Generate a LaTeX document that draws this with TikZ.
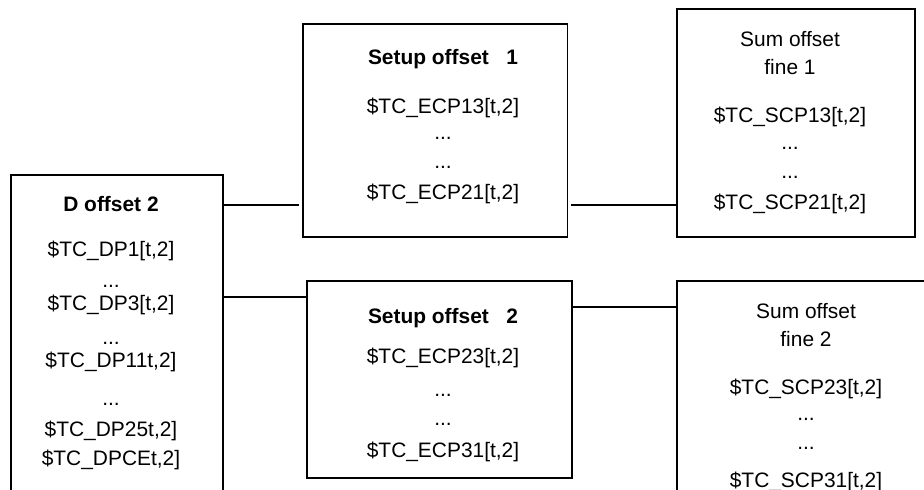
\documentclass[tikz,border=0pt]{standalone}
\usepackage{fontspec}
\setmainfont{Liberation Sans}
\begin{document}
\begin{tikzpicture}[x=1bp,y=-1bp,
  box/.style={draw, line width=1.8bp, inner sep=0pt, rectangle},
  link/.style={line width=1.8bp},
  lbl/.style={anchor=base, inner sep=0pt, font=\fontsize{21}{25}\selectfont},
  head/.style={lbl, font=\fontsize{21}{25}\selectfont\bfseries}]
\useasboundingbox (0,0) rectangle (924,490);
\clip (0,0) rectangle (924,490);

% offset blocks
\node[box, minimum width=212bp,   minimum height=355bp]   (D)  at (117,352.5)    {};
\node[box, minimum width=264.8bp, minimum height=212.7bp] (S1) at (435.1,130.35) {};
\node[box, minimum width=237.7bp, minimum height=227.7bp] (U1) at (796.15,122.85) {};
\node[box, minimum width=265bp,   minimum height=197bp]   (S2) at (439.2,379.2)  {};
\node[box, minimum width=282.7bp, minimum height=249.3bp] (U2) at (818.65,405.35) {};

% D offset contents
\node[head] (d0) at (111,212)   {D offset 2};
\node[lbl]  (d1) at (111,256.7) {\$TC\_DP1[t,2]};
\node[lbl]  (d2) at (111,287.7) {...};
\node[lbl]  (d3) at (111,310.7) {\$TC\_DP3[t,2]};
\node[lbl]  (d4) at (111,345)   {...};
\node[lbl]  (d5) at (111,367.3) {\$TC\_DP11t,2]};
\node[lbl]  (d6) at (111,405)   {...};
\node[lbl]  (d7) at (111,436.7) {\$TC\_DP25t,2]};
\node[lbl]  (d8) at (111,465)   {\$TC\_DPCEt,2]};

% setup offset 1
\node[head] (s10) at (443,65)    {Setup offset\ \ \ 1};
\node[lbl]  (s11) at (443,113.3) {\$TC\_ECP13[t,2]};
\node[lbl]  (s12) at (443,140)   {...};
\node[lbl]  (s13) at (443,168.3) {...};
\node[lbl]  (s14) at (443,200)   {\$TC\_ECP21[t,2]};

% sum offset fine 1
\node[lbl] (u10) at (790,46.7)  {Sum offset};
\node[lbl] (u11) at (790,75)    {fine 1};
\node[lbl] (u12) at (790,122.7) {\$TC\_SCP13[t,2]};
\node[lbl] (u13) at (790,150)   {...};
\node[lbl] (u14) at (790,178.3) {...};
\node[lbl] (u15) at (790,209.3) {\$TC\_SCP21[t,2]};

% setup offset 2
\node[head] (s20) at (443,323.3) {Setup offset\ \ \ 2};
\node[lbl]  (s21) at (443,364)   {\$TC\_ECP23[t,2]};
\node[lbl]  (s22) at (443,396.7) {...};
\node[lbl]  (s23) at (443,425)   {...};
\node[lbl]  (s24) at (443,457.3) {\$TC\_ECP31[t,2]};

% sum offset fine 2
\node[lbl] (u20) at (806,318.3) {Sum offset};
\node[lbl] (u21) at (806,346.7) {fine 2};
\node[lbl] (u22) at (806,394)   {\$TC\_SCP23[t,2]};
\node[lbl] (u23) at (806,420)   {...};
\node[lbl] (u24) at (806,449.3) {...};
\node[lbl] (u25) at (806,487.3) {\$TC\_SCP31[t,2]};

% connector heights
\coordinate (r1) at (0,205);
\coordinate (r2) at (0,296.7);
\coordinate (r3) at (0,306.7);

% connectors
\draw[link, shorten >=2.5bp] (D.east |- r1) -- (S1.west |- r1);
\draw[link, shorten <=3bp]   (S1.east |- r1) -- (U1.west |- r1);
\draw[link] (D.east |- r2) -- (S2.west |- r2);
\draw[link] (S2.east |- r3) -- (U2.west |- r3);
\end{tikzpicture}
\end{document}
